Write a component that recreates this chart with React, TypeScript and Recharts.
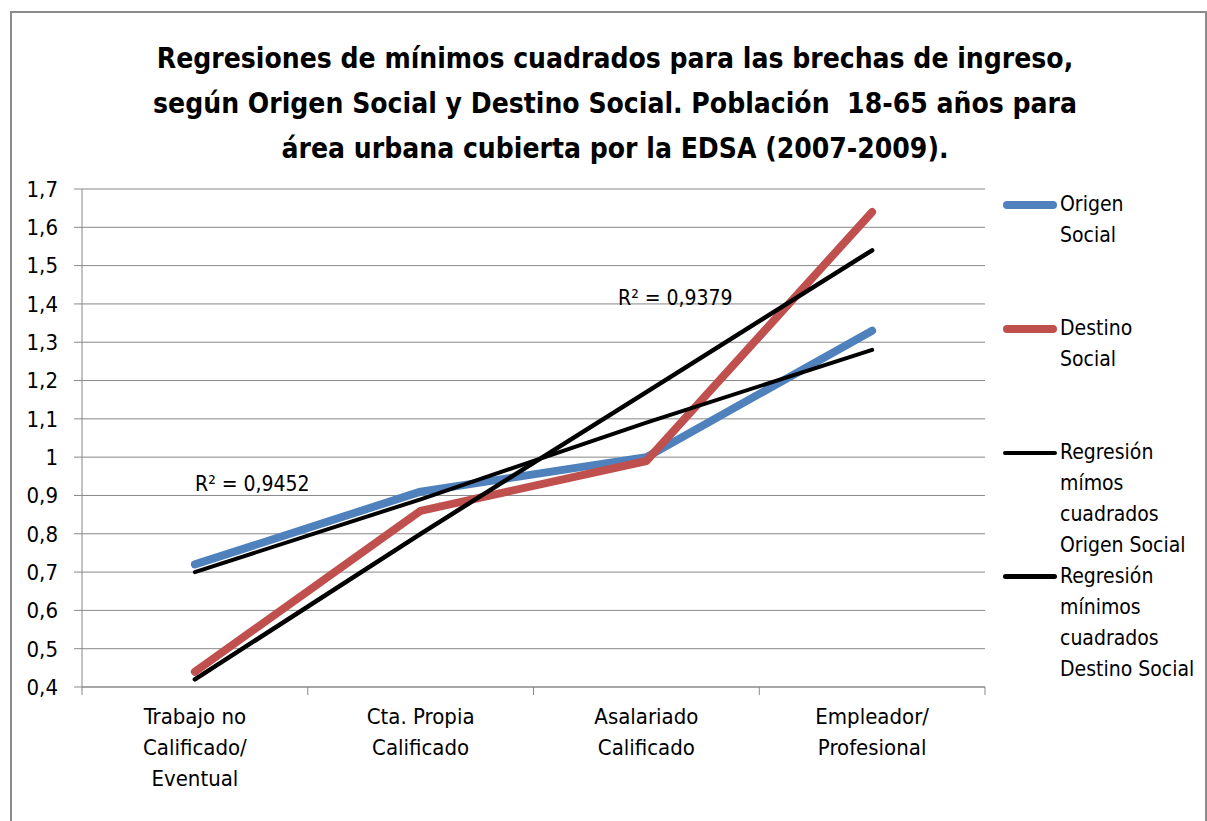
import React from "react";
import { LineChart, Line, XAxis, YAxis, CartesianGrid, ReferenceLine } from "recharts";

const categories = [
  "Trabajo no\nCalificado/\nEventual",
  "Cta. Propia\nCalificado",
  "Asalariado\nCalificado",
  "Empleador/\nProfesional",
];
const origenSocial = [0.72, 0.91, 1.0, 1.33];
const destinoSocial = [0.44, 0.86, 0.99, 1.64];
const regresionOrigen = [0.7, 0.89, 1.09, 1.28];
const regresionDestino = [0.42, 0.8, 1.17, 1.54];
const yTicks = [0.4, 0.5, 0.6, 0.7, 0.8, 0.9, 1.0, 1.1, 1.2, 1.3, 1.4, 1.5, 1.6, 1.7];
const categoryBoundaries = [0.5, 1.5, 2.5, 3.5, 4.5];
const r2Labels = ["R² = 0,9452", "R² = 0,9379"];
const titleLines = [
  "Regresiones de mínimos cuadrados para las brechas de ingreso,",
  "según Origen Social y Destino Social. Población  18-65 años para",
  "área urbana cubierta por la EDSA (2007-2009).",
];

const legendItems = [
  { label: "Origen\nSocial", color: "#4F81BD", width: 8 },
  { label: "Destino\nSocial", color: "#C0504D", width: 8 },
  { label: "Regresión\nmímos\ncuadrados\nOrigen Social", color: "#000000", width: 4 },
  { label: "Regresión\nmínimos\ncuadrados\nDestino Social", color: "#000000", width: 5 },
];

const data = categories.map((c, i) => ({
  x: i + 1,
  name: c,
  origen: origenSocial[i],
  destino: destinoSocial[i],
  regOrigen: regresionOrigen[i],
  regDestino: regresionDestino[i],
}));

const FONT = '"DejaVu Sans Condensed", "Noto Sans", sans-serif';
const GRAY = "#888888";

const XTick = (props: any) => {
  const { x, y, payload } = props;
  const lines = categories[payload.value - 1].split("\n");
  return (
    <text x={x} y={y} textAnchor="middle" fill="#000" fontSize={22} fontFamily={FONT}>
      {lines.map((l, i) => (
        <tspan key={i} x={x} dy={i === 0 ? 29 : 31}>
          {l}
        </tspan>
      ))}
    </text>
  );
};

const fmt = (v: number) => (Math.round(v * 10) / 10).toString().replace(".", ",");

export default function App() {
  return (
    <div style={{ position: "absolute", left: 0, top: 0, width: 1207, height: 821, background: "#fff", overflow: "hidden" }}>
      <div
        style={{
          position: "absolute",
          left: 10,
          top: 11,
          width: 1193,
          height: 815,
          border: "2px solid #8c8c8c",
          borderBottom: "none",
        }}
      />
      <div
        style={{
          position: "absolute",
          left: 0,
          top: 36,
          width: 1230,
          textAlign: "center",
          fontFamily: FONT,
          fontWeight: "bold",
          fontSize: 28,
          lineHeight: "45px",
          color: "#000",
        }}
      >
        {titleLines.map((t, i) => (
          <div key={i} style={{ whiteSpace: "pre" }}>{t}</div>
        ))}
      </div>
      <div style={{ position: "absolute", left: 0, top: 0 }}>
        <LineChart width={1207} height={821} data={data} margin={{ top: 189, right: 222, bottom: 0, left: 22 }}>
          <CartesianGrid vertical={false} stroke={GRAY} strokeWidth={1} />
          <XAxis
            type="number"
            dataKey="x"
            domain={[0.5, 4.5]}
            ticks={[1, 2, 3, 4]}
            tickLine={false}
            axisLine={{ stroke: GRAY }}
            tick={<XTick />}
            height={134}
            interval={0}
          />
          <YAxis
            type="number"
            domain={[0.4, 1.7]}
            ticks={yTicks}
            tickFormatter={fmt}
            width={60}
            tickSize={8}
            tickMargin={16}
            axisLine={{ stroke: GRAY }}
            tickLine={{ stroke: GRAY }}
            tick={{ fill: "#000", fontSize: 22, fontFamily: FONT }}
            interval={0}
          />
          {categoryBoundaries.map((b) => (
            <ReferenceLine
              key={b}
              segment={[
                { x: b, y: 0.4 },
                { x: b, y: 0.379 },
              ]}
              stroke={GRAY}
              ifOverflow="visible"
            />
          ))}
          <Line dataKey="origen" stroke="#4F81BD" strokeWidth={8} dot={false} isAnimationActive={false} strokeLinecap="round" strokeLinejoin="round" />
          <Line dataKey="destino" stroke="#C0504D" strokeWidth={8} dot={false} isAnimationActive={false} strokeLinecap="round" strokeLinejoin="round" />
          <Line dataKey="regOrigen" stroke="#000" strokeWidth={4} dot={false} isAnimationActive={false} strokeLinecap="round" />
          <Line dataKey="regDestino" stroke="#000" strokeWidth={4.5} dot={false} isAnimationActive={false} strokeLinecap="round" />
        </LineChart>
      </div>
      <div style={{ position: "absolute", left: 195, top: 470, fontFamily: FONT, fontSize: 21, lineHeight: "28px", whiteSpace: "pre" }}>
        {r2Labels[0]}
      </div>
      <div style={{ position: "absolute", left: 618, top: 284, fontFamily: FONT, fontSize: 21, lineHeight: "28px", whiteSpace: "pre" }}>
        {r2Labels[1]}
      </div>
      <div style={{ position: "absolute", left: 1003, top: 189, width: 204 }}>
        {legendItems.map((it, i) => {
          const lines = it.label.split("\n");
          return (
            <div key={i} style={{ display: "flex", alignItems: "flex-start", height: 124 }}>
              <div style={{ width: 57, height: 31, display: "flex", alignItems: "center", flexShrink: 0 }}>
                <div style={{ width: 54, height: it.width, background: it.color, borderRadius: it.width / 2 }} />
              </div>
              <div style={{ fontFamily: FONT, fontSize: 21, lineHeight: "31px", color: "#000", whiteSpace: "pre" }}>
                {lines.join("\n")}
              </div>
            </div>
          );
        })}
      </div>
    </div>
  );
}
